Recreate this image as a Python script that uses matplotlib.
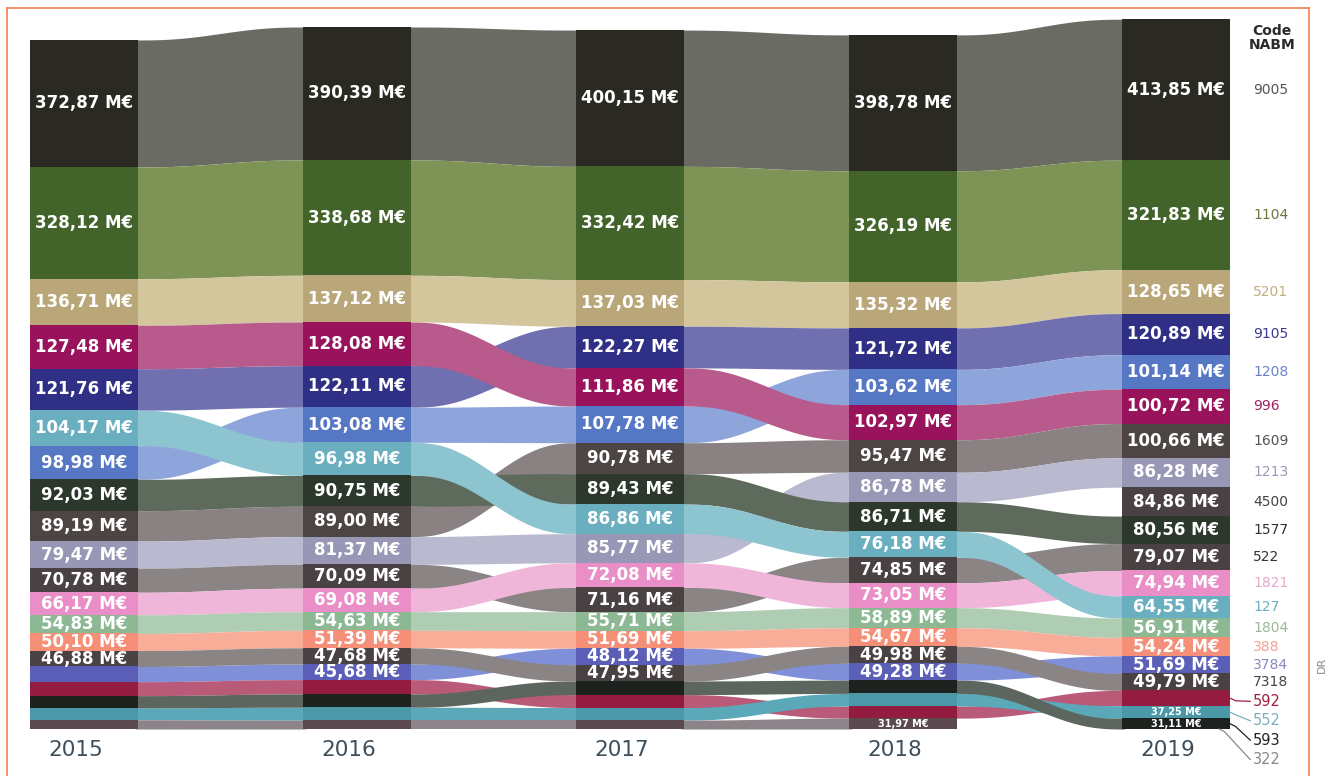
import numpy as np
import matplotlib
matplotlib.use("Agg")
import matplotlib.pyplot as plt
from matplotlib.lines import Line2D

plt.rcParams['font.family'] = ['DejaVu Sans']

years = ['2015', '2016', '2017', '2018', '2019']

codes = ['9005', '1104', '5201', '9105', '1208', '996', '1609', '1213', '4500', '1577',
         '522', '1821', '127', '1804', '388', '3784', '7318', '592', '552', '593', '322']

# M€ per year (0 = absent that year); unlabelled cells are estimates
v9005 = [372.87, 390.39, 400.15, 398.78, 413.85]
v1104 = [328.12, 338.68, 332.42, 326.19, 321.83]
v5201 = [136.71, 137.12, 137.03, 135.32, 128.65]
v9105 = [121.76, 122.11, 122.27, 121.72, 120.89]
v1208 = [98.98, 103.08, 107.78, 103.62, 101.14]
v996 = [127.48, 128.08, 111.86, 102.97, 100.72]
v1609 = [89.19, 89.00, 90.78, 95.47, 100.66]
v1213 = [79.47, 81.37, 85.77, 86.78, 86.28]
v4500 = [0, 0, 0, 0, 84.86]
v1577 = [92.03, 90.75, 89.43, 86.71, 80.56]
v522 = [70.78, 70.09, 71.16, 74.85, 79.07]
v1821 = [66.17, 69.08, 72.08, 73.05, 74.94]
v127 = [104.17, 96.98, 86.86, 76.18, 64.55]
v1804 = [54.83, 54.63, 55.71, 58.89, 56.91]
v388 = [50.10, 51.39, 51.69, 54.67, 54.24]
v3784 = [44.5, 45.68, 48.12, 49.28, 51.69]
v7318 = [46.88, 47.68, 47.95, 49.98, 49.79]
v592 = [41.0, 42.0, 38.0, 35.5, 45.0]
v552 = [35.0, 38.0, 37.0, 37.0, 37.25]
v593 = [36.0, 39.0, 40.0, 39.0, 31.11]
v322 = [27.0, 26.0, 26.0, 31.97, 0]

values = [v9005, v1104, v5201, v9105, v1208, v996, v1609, v1213, v4500, v1577,
          v522, v1821, v127, v1804, v388, v3784, v7318, v592, v552, v593, v322]

# cells drawn without a value label
unlabelled = [('3784', 0), ('592', 0), ('593', 0), ('552', 0), ('322', 0),
              ('592', 1), ('593', 1), ('552', 1), ('322', 1),
              ('592', 2), ('593', 2), ('552', 2), ('322', 2),
              ('592', 3), ('593', 3), ('552', 3),
              ('592', 4)]

bar_colors = {
    '9005': '#2a2a22', '1104': '#42632a', '5201': '#b9a77a', '9105': '#2f2f86',
    '1208': '#5577c4', '996': '#99135c', '1609': '#4d4444', '1213': '#9898b6',
    '4500': '#4a4242', '1577': '#2c382c', '522': '#4a4242', '1821': '#e98ec6',
    '127': '#6aafc0', '1804': '#8db894', '388': '#f58f78', '3784': '#5b5fb8',
    '7318': '#4a4242', '592': '#941c40', '552': '#4a98a8', '593': '#1e221e',
    '322': '#5a4a50',
}
ribbon_colors = {
    '9005': '#6a6c64', '1104': '#7e9356', '5201': '#d3c59c', '9105': '#7070b0',
    '1208': '#8ea5dc', '996': '#b85a8c', '1609': '#8a8282', '1213': '#b9b9d0',
    '4500': '#8a8484', '1577': '#5e6a5c', '522': '#8a8484', '1821': '#f0b6da',
    '127': '#8cc4d0', '1804': '#afcdb2', '388': '#f7ad98', '3784': '#8090d8',
    '7318': '#8a8484', '592': '#b85a78', '552': '#5aa8b8', '593': '#5c665e',
    '322': '#8c8488',
}
label_colors = {
    '9005': '#555555', '1104': '#6b7a3a', '5201': '#c4ae80', '9105': '#3a3a8a',
    '1208': '#6a80c8', '996': '#a0205e', '1609': '#555555', '1213': '#9a9ab8',
    '4500': '#444444', '1577': '#333333', '522': '#333333', '1821': '#e8a8cc',
    '127': '#6ab0c0', '1804': '#9ab89a', '388': '#f4a090', '3784': '#8888c0',
    '7318': '#444444', '592': '#a02040', '552': '#7ab0c0', '593': '#222222',
    '322': '#888888',
}

n_years = len(years)
bw = 108 / 273

# stack positions: biggest on top
bottoms = {c: [0.0] * n_years for c in codes}
for j in range(n_years):
    order = sorted(range(len(codes)), key=lambda k: values[k][j])
    acc = 0.0
    for k in order:
        bottoms[codes[k]][j] = acc
        acc += values[k][j]

fig = plt.figure(figsize=(13.33, 7.76), dpi=100)
ax = fig.add_axes([0, 0, 1, 1])
ax.set_xlim(-84 / 273, (1333 - 84) / 273)
ppm = 0.3406
ax.set_ylim(-47 / ppm, (776 - 47) / ppm)
ax.axis('off')

t = np.linspace(0, 1, 120)
s = 6 * t**5 - 15 * t**4 + 10 * t**3

# ribbons (run a little under the bars to avoid seams)
pad = 0.01
for k, c in enumerate(codes):
    for j in range(n_years - 1):
        a, b = values[k][j], values[k][j + 1]
        if a <= 0 or b <= 0:
            continue
        x = (j + bw / 2 - pad) + t * (1 - bw + 2 * pad)
        lo = bottoms[c][j] + s * (bottoms[c][j + 1] - bottoms[c][j])
        hi = lo + a + s * (b - a)
        ax.fill_between(x, lo, hi, color=ribbon_colors[c], lw=0, zorder=1)

# bars and value labels
for k, c in enumerate(codes):
    for j in range(n_years):
        v = values[k][j]
        if v <= 0:
            continue
        ax.bar(j, v, width=bw, bottom=bottoms[c][j], color=bar_colors[c], lw=0, zorder=2)
        if (c, j) in unlabelled:
            continue
        txt = f"{v:.2f}".replace('.', ',') + " M€"
        small = v < 40
        ax.text(j, bottoms[c][j] + v / 2, txt, ha='center', va='center',
                color='white', fontsize=7 if small else 12,
                fontweight='bold', zorder=3)

# year labels
for j, y in enumerate(years):
    ax.text(j - 0.03, -62, y, ha='center', va='center', fontsize=15.5,
            color='#3e4e5a')

# code labels on the right
last = n_years - 1
xl = 4.282
tail = ['592', '552', '593', '322']
ref = bottoms['7318'][last] + v7318[last] / 2
for k, c in enumerate(codes):
    v = values[k][last]
    yc = bottoms[c][last] + v / 2
    if c in tail:
        ly = ref - 57 * (tail.index(c) + 1)
        x0 = last + bw / 2 if c != '322' else last + bw / 2 - 0.04
        ax.plot([x0, x0 + 0.02, xl - 0.01], [yc, yc - 8, ly], color=label_colors[c],
                lw=0.9, zorder=4)
        ax.text(xl, ly, c, ha='left', va='center', fontsize=10.5, color=label_colors[c])
    else:
        ax.text(xl, yc, c, ha='left', va='center', fontsize=10, color=label_colors[c])

ax.text(4.352, 2029, "Code\nNABM", ha='center', va='center', fontsize=10,
        fontweight='bold', color='#2a2a2a', linespacing=1.0)

fig.text(1322 / 1333, 1 - 665 / 776, "DR", rotation=90, ha='center', va='center',
         fontsize=8, color='#888888')

border = '#f08050'
fig.add_artist(Line2D([7 / 1333, 7 / 1333], [0, 1 - 8 / 776], color=border, lw=1.2))
fig.add_artist(Line2D([7 / 1333, 1309 / 1333], [1 - 8 / 776, 1 - 8 / 776], color=border, lw=1.2))
fig.add_artist(Line2D([1309 / 1333, 1309 / 1333], [0, 1 - 8 / 776], color=border, lw=1.2))

plt.savefig("out.png", dpi=100)
